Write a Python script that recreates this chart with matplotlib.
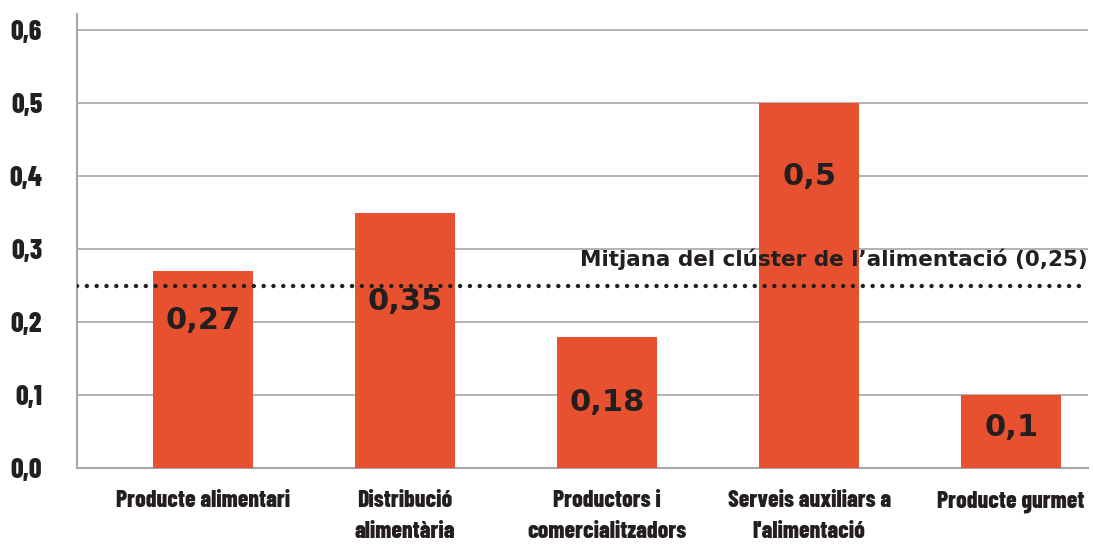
import numpy as np
import matplotlib
matplotlib.use('Agg')
import matplotlib.pyplot as plt

# Data
categories = ['Producte alimentari', 'Distribució\nalimentària', 'Productors i\ncomercialitzadors',
              "Serveis auxiliars a\nl'alimentació", 'Producte gurmet']
values = [0.27, 0.35, 0.18, 0.5, 0.1]
value_labels = ['0,27', '0,35', '0,18', '0,5', '0,1']
mean_value = 0.25
mean_label = "Mitjana del clúster de l’alimentació (0,25)"
yticks = [0.0, 0.1, 0.2, 0.3, 0.4, 0.5, 0.6]
ytick_labels = ['0,0', '0,1', '0,2', '0,3', '0,4', '0,5', '0,6']

# where the value text sits inside each bar (fraction of bar height)
label_frac = [0.75, 0.65, 0.5, 0.8, 0.55]

bar_color = '#E8512F'
text_color = '#231F20'
grid_color = '#A6A6A6'
cond = ['Barlow Condensed', 'DejaVu Sans']
round_font = ['DejaVu Sans']

fig = plt.figure(figsize=(10.93, 5.49), dpi=100)
ax = fig.add_axes([0.0704, 0.1475, 0.925, 0.827])

x = np.arange(len(categories))
ax.bar(x, values, width=0.495, color=bar_color, zorder=3)

ax.set_xlim(-0.624, 4.38)
ax.set_ylim(0, 0.622)

# grid
ax.set_yticks(yticks)
ax.yaxis.grid(True, color=grid_color, linewidth=1.2, zorder=0)
ax.set_axisbelow(True)
for s in ['top', 'right']:
    ax.spines[s].set_visible(False)
for s in ['left', 'bottom']:
    ax.spines[s].set_color(grid_color)
    ax.spines[s].set_linewidth(1.5)
ax.tick_params(axis='both', length=0)

ax.set_yticklabels(ytick_labels, fontfamily=cond, fontweight=800,
                   fontsize=20, color=text_color)
ax.tick_params(axis='y', pad=25)

ax.set_xticks(x)
ax.set_xticklabels(categories, fontfamily=cond, fontweight=800,
                   fontsize=17, color=text_color, linespacing=1.5)
ax.tick_params(axis='x', pad=16)

# value labels inside bars
for xi, v, t, f in zip(x, values, value_labels, label_frac):
    ax.text(xi, v * f, t, ha='center', va='center', fontsize=22,
            fontweight='bold', fontfamily=round_font, color=text_color, zorder=4)

# mean line
ax.axhline(mean_value, color=text_color, linestyle=(0, (0.01, 2.2)),
           linewidth=3.2, dash_capstyle='round', zorder=5)
ax.text(4.38, mean_value + 0.036, mean_label, ha='right', va='center',
        fontsize=15.5, fontweight='bold', fontfamily=round_font, color=text_color)

fig.savefig('out.png', dpi=100)
